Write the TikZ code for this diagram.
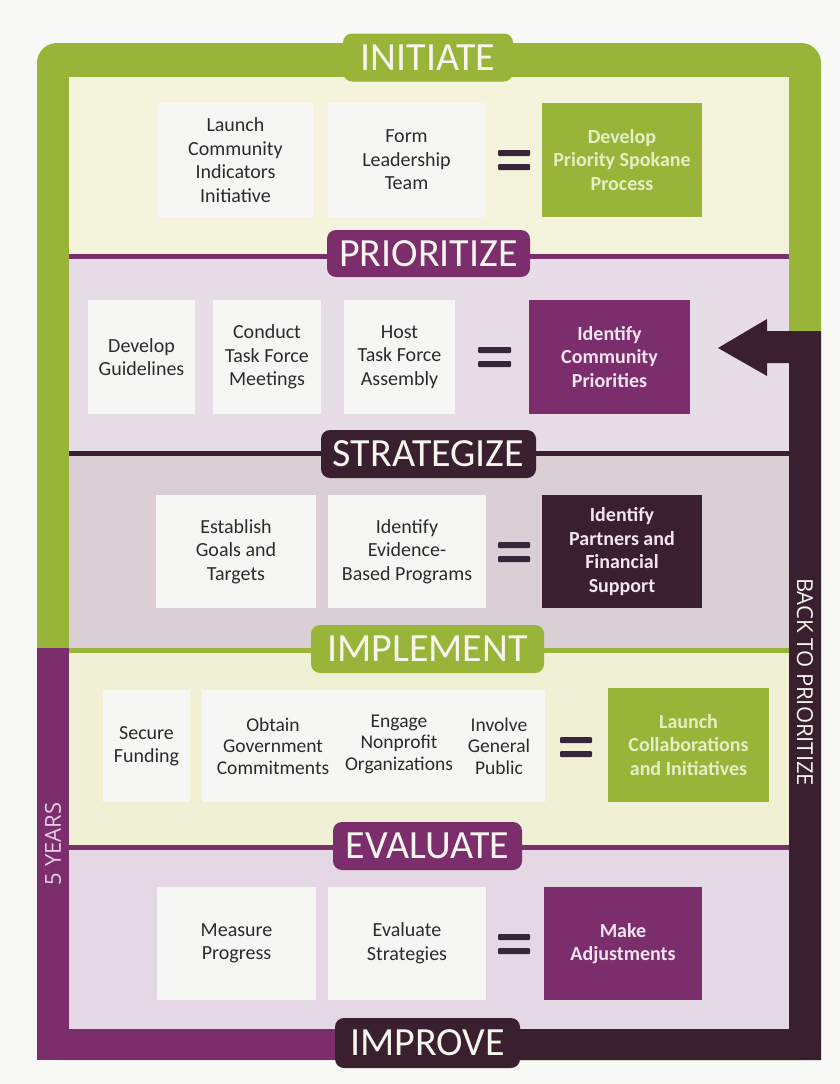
\documentclass[tikz,border=0pt]{standalone}
\usepackage{fontspec}
\setmainfont{Carlito}
\newfontfamily\sidefont{Open Sans}
\definecolor{pagebg}{RGB}{248,248,246}
\definecolor{cgreen}{RGB}{152,181,58}
\definecolor{cpurple}{RGB}{124,46,108}
\definecolor{cdark}{RGB}{58,32,46}
\definecolor{bgA}{RGB}{244,244,220}
\definecolor{bgB}{RGB}{231,221,231}
\definecolor{bgC}{RGB}{218,207,212}
\definecolor{bgD}{RGB}{240,241,212}
\definecolor{bgE}{RGB}{228,216,228}
\definecolor{wboxc}{RGB}{246,246,244}
\definecolor{boxtext}{RGB}{45,42,45}
\definecolor{gtext}{RGB}{232,238,196}
\definecolor{ptext}{RGB}{242,228,240}
\definecolor{tabtext}{RGB}{246,246,238}
\definecolor{eqc}{RGB}{55,38,55}
\definecolor{sidetext}{RGB}{228,206,224}
\tikzset{
  boxbase/.style={align=center, inner sep=0pt, font=\fontsize{20}{23.5}\selectfont},
  wbox/.style={boxbase, fill=wboxc, text=boxtext},
  plaintext/.style={boxbase, text=boxtext, font=\fontsize{19.5}{21.5}\selectfont},
  gbox/.style={boxbase, fill=cgreen, text=gtext, font=\bfseries\fontsize{20}{23.5}\selectfont},
  pbox/.style={boxbase, fill=cpurple, text=ptext, font=\bfseries\fontsize{20}{23.5}\selectfont},
  dbox/.style={boxbase, fill=cdark, text=ptext, font=\bfseries\fontsize{20}{23.5}\selectfont},
  tab/.style={rounded corners=9pt, inner sep=0pt, minimum height=48pt, text=tabtext, font=\fontsize{40}{40}\selectfont},
  sidelbl/.style={inner sep=0pt, font=\sidefont\fontsize{22}{22}\selectfont},
  divider/.style={line width=5pt}
}
\begin{document}
\begin{tikzpicture}[x=1pt,y=-1pt]
\useasboundingbox (0,0) rectangle (840,1084);
\fill[pagebg] (0,0) rectangle (840,1084);
% outer frame
\fill[cgreen, rounded corners=20pt] (37,43) rectangle (821,1060);
% section backgrounds
\fill[bgA] (69,77) rectangle (789,256);
\fill[bgB] (69,256) rectangle (789,453);
\fill[bgC] (69,453) rectangle (789,650);
\fill[bgD] (69,650) rectangle (789,847);
\fill[bgE] (69,847) rectangle (789,1029);
% purple left and bottom bars
\fill[cpurple] (37,648) rectangle (69,1060);
\fill[cpurple] (37,1029) rectangle (428,1060);
% dark return bar with arrow
\fill[cdark] (821,331) -- (767,331) -- (767,319) -- (718,348) -- (767,376) -- (767,363)
  -- (789,363) -- (789,1029) -- (428,1029) -- (428,1060) -- (821,1060) -- cycle;
% dividers
\draw[divider, cpurple] (69,256) -- (789,256);
\draw[divider, cdark] (69,453) -- (789,453);
\draw[divider, cgreen] (69,650) -- (789,650);
\draw[divider, cpurple] (69,847) -- (789,847);
% tabs
\node[tab, fill=cgreen, minimum width=170pt] (tInit) at (428,57.5) {INITIATE};
\node[tab, fill=cpurple, minimum width=203pt, minimum height=47pt] (tPrio) at (428.5,253.5) {PRIORITIZE};
\node[tab, fill=cdark, minimum width=215pt] (tStrat) at (428.5,454) {STRATEGIZE};
\node[tab, fill=cgreen, minimum width=233pt] (tImpl) at (427.5,649) {IMPLEMENT};
\node[tab, fill=cpurple, minimum width=189pt] (tEval) at (427.5,846) {EVALUATE};
\node[tab, fill=cdark, minimum width=185pt, minimum height=50pt] (tImpr) at (427.5,1043) {IMPROVE};
% side labels
\node[sidelbl, text=sidetext, rotate=90] (years) at (53,844) {5 YEARS};
\node[sidelbl, text=tabtext, rotate=-90] (back) at (805,682) {BACK TO PRIORITIZE};
% INITIATE row
\node[wbox, minimum width=155pt, minimum height=114pt] (a1) at (235.5,160) {Launch\\Community\\Indicators\\Initiative};
\node[wbox, minimum width=157pt, minimum height=114pt] (a2) at (406.5,160) {Form\\Leadership\\Team};
\node[gbox, minimum width=160pt, minimum height=114pt] (a3) at (622,160) {Develop\\Priority Spokane\\Process};
\fill[eqc, rounded corners=1pt] (498,150) rectangle (530,156);
\fill[eqc, rounded corners=1pt] (498,164) rectangle (530,170);
% PRIORITIZE row
\node[wbox, minimum width=107pt, minimum height=114pt] (b1) at (141.5,357) {Develop\\Guidelines};
\node[wbox, minimum width=108pt, minimum height=114pt] (b2) at (267,357) {Conduct\\Task Force\\Meetings};
\node[wbox, minimum width=111pt, minimum height=114pt] (b3) at (399.5,357) {Host\\Task Force\\Assembly};
\node[pbox, minimum width=161pt, minimum height=114pt] (b4) at (609.5,357) {Identify\\Community\\Priorities};
\fill[eqc, rounded corners=1pt] (478,347) rectangle (511,353);
\fill[eqc, rounded corners=1pt] (478,361) rectangle (511,367);
% STRATEGIZE row
\node[wbox, minimum width=160pt, minimum height=113pt] (c1) at (236,551.5) {Establish\\Goals and\\Targets};
\node[wbox, minimum width=158pt, minimum height=113pt] (c2) at (407,551.5) {Identify\\Evidence-\\Based Programs};
\node[dbox, minimum width=160pt, minimum height=113pt] (c3) at (622,551.5) {Identify\\Partners and\\Financial\\Support};
\fill[eqc, rounded corners=1pt] (498,542) rectangle (530,548);
\fill[eqc, rounded corners=1pt] (498,556) rectangle (530,562);
% IMPLEMENT row
\node[wbox, minimum width=87pt, minimum height=112pt] (d1) at (146.5,746) {Secure\\Funding};
\node[wbox, minimum width=343pt, minimum height=112pt] (d2) at (373.5,746) {};
\node[plaintext] (d2a) at (273,746) {Obtain\\Government\\Commitments};
\node[plaintext] (d2b) at (399,744) {Engage\\Nonprofit\\Organizations};
\node[plaintext] (d2c) at (499,746) {Involve\\General\\Public};
\node[gbox, minimum width=161pt, minimum height=114pt] (d3) at (688.5,745) {Launch\\Collaborations\\and Initiatives};
\fill[eqc, rounded corners=1pt] (560,737) rectangle (592,743);
\fill[eqc, rounded corners=1pt] (560,751) rectangle (592,757);
% EVALUATE row
\node[wbox, minimum width=159pt, minimum height=113pt] (e1) at (236.5,943.5) {Measure\\Progress};
\node[wbox, minimum width=158pt, minimum height=113pt] (e2) at (407,943.5) {Evaluate\\Strategies};
\node[pbox, minimum width=158pt, minimum height=113pt] (e3) at (623,943.5) {Make\\Adjustments};
\fill[eqc, rounded corners=1pt] (498,934) rectangle (530,940);
\fill[eqc, rounded corners=1pt] (498,948) rectangle (530,954);
\end{tikzpicture}
\end{document}
